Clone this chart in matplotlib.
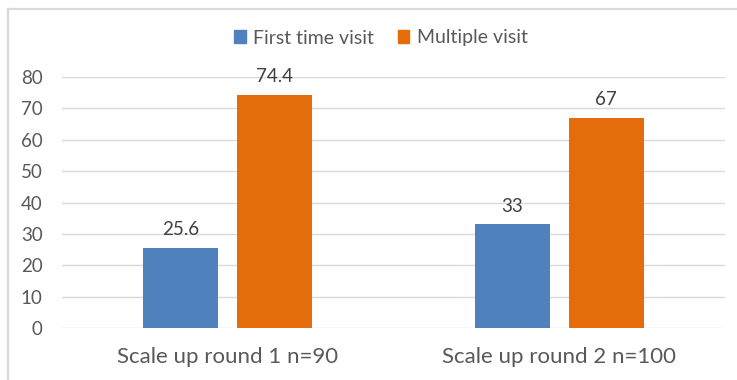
import matplotlib
matplotlib.use("Agg")
import matplotlib.pyplot as plt
from matplotlib.lines import Line2D
from matplotlib.patches import Patch
import numpy as np

categories = ["Scale up round 1 n=90", "Scale up round 2 n=100"]
series_names = ["First time visit", "Multiple visit"]
first_time = [25.6, 33]
multiple = [74.4, 67]
value_labels_first = ["25.6", "33"]
value_labels_multiple = ["74.4", "67"]
yticks = [0, 10, 20, 30, 40, 50, 60, 70, 80]

BLUE = "#4F81BD"
ORANGE = "#E46C0A"
GRID = "#D9D9D9"
TEXT = "#595959"

plt.rcParams["font.family"] = ["Lato", "DejaVu Sans"]

W, H = 737, 380
fig = plt.figure(figsize=(W / 100, H / 100), dpi=100)
fig.patch.set_facecolor("white")

# chart-area frame (left and top edges visible)
fig.add_artist(Line2D([8 / W, 8 / W], [0, 1 - 9 / H], transform=fig.transFigure,
                      color=GRID, lw=1.6))
fig.add_artist(Line2D([8 / W, 1], [1 - 9 / H, 1 - 9 / H], transform=fig.transFigure,
                      color=GRID, lw=1.6))

left, right = 62 / W, 725 / W
bottom, top = (H - 328) / H, (H - 77) / H
ax = fig.add_axes([left, bottom, right - left, top - bottom])

x = np.arange(len(categories))
bw = 0.226
off = 0.142
b1 = ax.bar(x - off, first_time, bw, color=BLUE, zorder=3)
b2 = ax.bar(x + off, multiple, bw, color=ORANGE, zorder=3)

for bars, labels in ((b1, value_labels_first), (b2, value_labels_multiple)):
    for rect, lab in zip(bars, labels):
        ax.annotate(lab, (rect.get_x() + rect.get_width() / 2, rect.get_height()),
                    xytext=(0, 7), textcoords="offset points", ha="center",
                    va="bottom", fontsize=13.5, color="#404040")

ax.set_xlim(-0.5, 1.5)
ax.set_ylim(0, 80)
ax.set_yticks(yticks)
ax.set_xticks(x)
ax.set_xticklabels(categories, fontsize=16, color=TEXT)
ax.tick_params(axis="y", labelsize=13.5, labelcolor=TEXT, length=0, pad=14)
ax.tick_params(axis="x", length=0, pad=14)
ax.grid(axis="y", color=GRID, lw=1, zorder=0)
for s in ax.spines.values():
    s.set_visible(False)

handles = [Patch(color=BLUE), Patch(color=ORANGE)]
fig.legend(handles, series_names, loc="center", bbox_to_anchor=(381 / W, 1 - 38 / H),
           ncol=2, frameon=False, fontsize=14, labelcolor=TEXT,
           handlelength=0.6, handleheight=0.6, handletextpad=0.4, columnspacing=1.2)

fig.savefig("out.png", dpi=100)
